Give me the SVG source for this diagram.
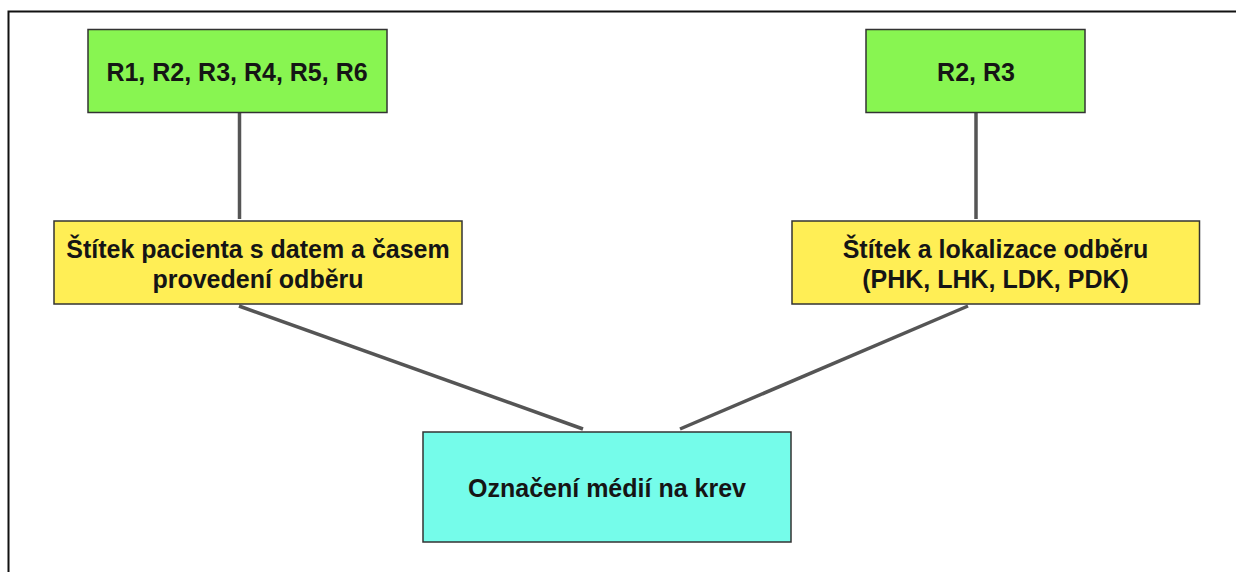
<svg xmlns="http://www.w3.org/2000/svg" width="1236" height="572" viewBox="0 0 1236 572">
<style>
.box{stroke:#333;stroke-width:1.5}
.g{fill:#88F551}
.y{fill:#FFEE55}
.c{fill:#75FCEA}
.t{font-family:"Liberation Sans",Arial,sans-serif;font-size:25px;font-weight:bold;fill:#151515;text-anchor:middle}
.conn line{stroke:#555;stroke-width:3.5;stroke-linecap:butt}
</style>
<rect width="1236" height="572" fill="#ffffff"/>
<path d="M8.5 572 V11.5 H1236" fill="none" stroke="#111" stroke-width="2"/>
<g class="conn" id="connectors">
<line x1="239.5" y1="113" x2="239.5" y2="219"/>
<line x1="976" y1="113" x2="976" y2="219"/>
<line x1="239" y1="306" x2="583" y2="429"/>
<line x1="968" y1="306" x2="680" y2="429"/>
</g>
<g id="n1">
<rect class="box g" x="88" y="29.5" width="299" height="83"/>
<text class="t" x="237" y="81">R1, R2, R3, R4, R5, R6</text>
</g>
<g id="n2">
<rect class="box g" x="866" y="29.5" width="219" height="83"/>
<text class="t" x="976" y="81">R2, R3</text>
</g>
<g id="n3">
<rect class="box y" x="54" y="221" width="408" height="83"/>
<text class="t" x="258" y="258">Štítek pacienta s datem a časem</text>
<text class="t" x="258" y="288">provedení odběru</text>
</g>
<g id="n4">
<rect class="box y" x="792" y="221" width="407.5" height="83"/>
<text class="t" x="995.5" y="258">Štítek a lokalizace odběru</text>
<text class="t" x="995.5" y="288">(PHK, LHK, LDK, PDK)</text>
</g>
<g id="n5">
<rect class="box c" x="423" y="432" width="368" height="110"/>
<text class="t" x="607" y="497">Označení médií na krev</text>
</g>
</svg>
